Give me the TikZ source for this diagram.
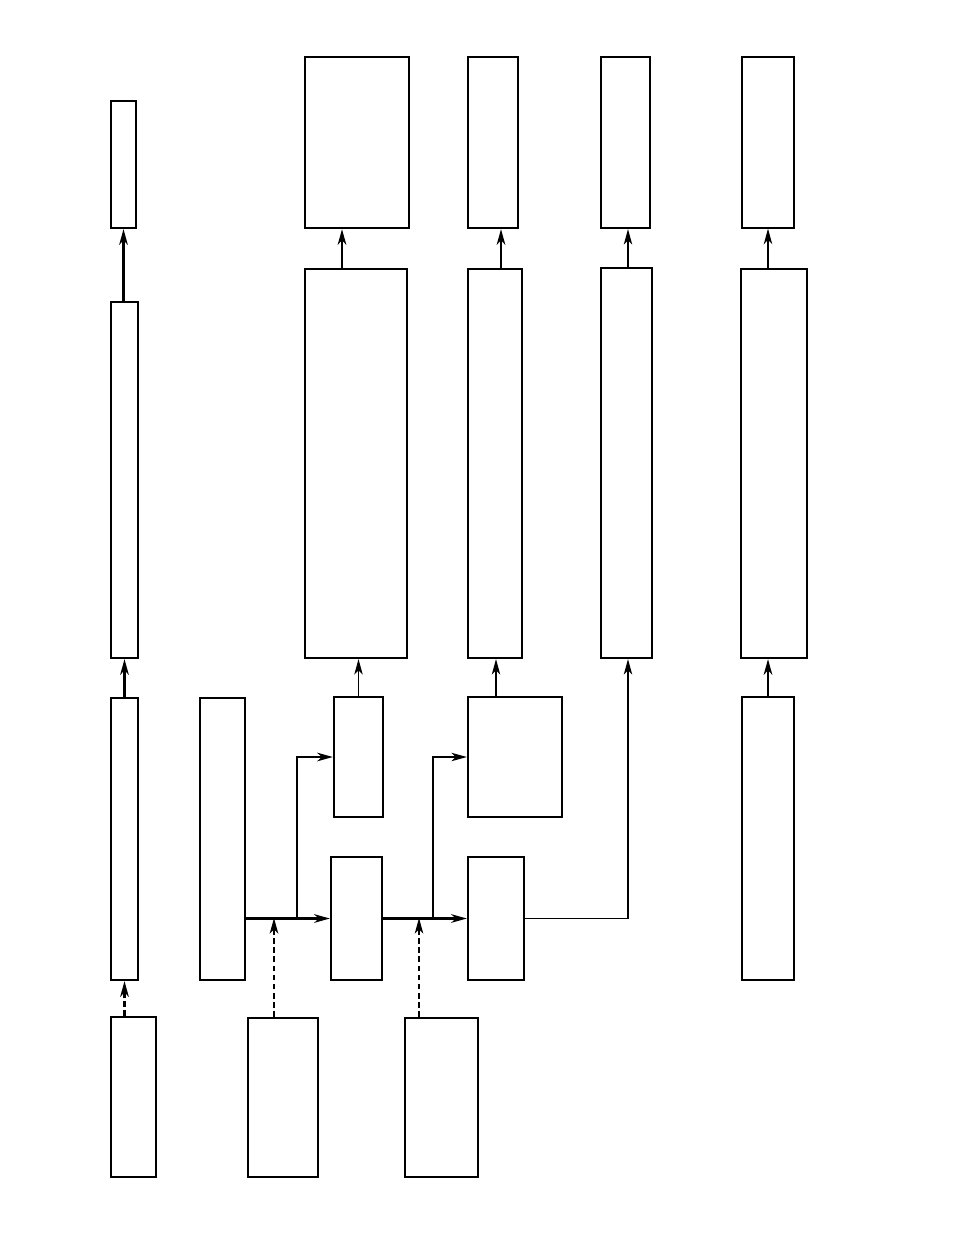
\documentclass[tikz,border=0pt]{standalone}
\usetikzlibrary{arrows.meta,fit}
\begin{document}
\begin{tikzpicture}[x=0.025cm,y=-0.025cm,
  blk/.style={draw,line width=1.6pt,inner sep=0pt},
  thk/.style={line width=1.8pt,-{Stealth[length=11pt,width=6pt,inset=3pt]}},
  thn/.style={line width=0.9pt,-{Stealth[length=11pt,width=6pt,inset=3pt]}}]
\useasboundingbox (0,0) rectangle (954,1235);
% left column
\node[blk,fit={(111,101) (136,228)}] (a1) {};
\node[blk,fit={(111,302) (138,658)}] (a2) {};
\node[blk,fit={(111,698) (138,980)}] (a3) {};
\node[blk,fit={(111,1017) (156,1177)}] (a4) {};
\node[blk,fit={(200,698) (245,980)}] (b1) {};
\node[blk,fit={(248,1018) (318,1177)}] (b2) {};
% upper rows
\node[blk,fit={(305,57) (409,228)}] (c0) {};
\node[blk,fit={(305,269) (407,658)}] (cm) {};
\node[blk,fit={(468,57) (518,228)}] (d0) {};
\node[blk,fit={(468,269) (522,658)}] (dm) {};
\node[blk,fit={(601,57) (650,228)}] (e0) {};
\node[blk,fit={(601,268) (652,658)}] (em) {};
\node[blk,line width=1pt,fit={(742,57) (794,228)}] (f0) {};
\node[blk,fit={(741,269) (807,658)}] (fm) {};
% lower rows
\node[blk,fit={(334,697) (383,817)}] (c1) {};
\node[blk,fit={(331,857) (382,980)}] (c2) {};
\node[blk,fit={(405,1018) (478,1177)}] (c3) {};
\node[blk,fit={(468,697) (562,817)}] (d1) {};
\node[blk,fit={(468,857) (524,980)}] (d2) {};
\node[blk,fit={(742,697) (794,980)}] (f1) {};
\coordinate (s1) at (297,918);
\coordinate (s2) at (274,918);
\coordinate (s3) at (433,918);
\coordinate (s4) at (419,918);
\coordinate (s5) at (628,918);
% arrows
\draw[thk] (a2.north -| a1.south) -- (a1.south);
\draw[thk] (a3.north) -- (a2.south);
\draw[thk,dash pattern=on 4pt off 2.5pt] (a4.north -| a3.north) -- (a3.south);
\draw[thk] (b1.east |- c2.west) -- (c2.west);
\draw[thk] (s1) |- (c1.west);
\draw[thk,dash pattern=on 4pt off 2.5pt] (b2.north -| s2) -- (s2);
\draw[thk] (c2.east) -- (d2.west);
\draw[thn] (s3) |- (d1.west);
\draw[thn,dash pattern=on 4pt off 2.5pt] (c3.north -| s4) -- (s4);
\draw[thn] (d2.east) -| (s5 |- em.south);
\draw[thk] (cm.north -| 342,0) -- (c0.south -| 342,0);
\draw[thn] (c1.north) -- (c1.north |- cm.south);
\draw[thk] (dm.north -| 501,0) -- (d0.south -| 501,0);
\draw[thn] (d1.north -| 496,0) -- (dm.south -| 496,0);
\draw[thn] (em.north -| s5) -- (e0.south -| s5);
\draw[thn] (fm.north -| f0.south) -- (f0.south);
\draw[thk] (f1.north) -- (f1.north |- fm.south);
\end{tikzpicture}
\end{document}
